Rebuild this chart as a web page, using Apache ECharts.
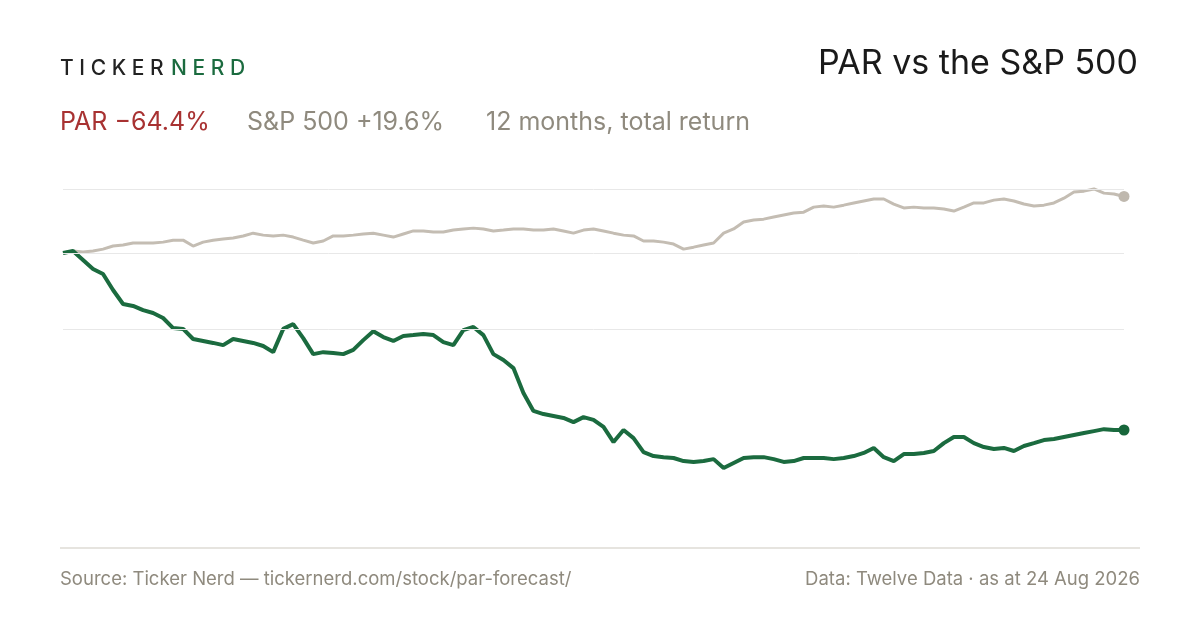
<!DOCTYPE html>
<html>
<head>
<meta charset="utf-8">
<script src="https://cdn.jsdelivr.net/npm/echarts@6/dist/echarts.min.js"></script>
<style>
  html, body { margin: 0; padding: 0; background: #fff; }
  #chart { width: 1200px; height: 630px; }
</style>
</head>
<body>
<div id="chart"></div>
<script>
// 12 months total return, %
const spx = [0,0.7,0.4,0.7,1.4,2.5,2.9,3.6,3.6,3.6,3.9,4.6,4.6,2.5,3.9,4.6,5.0,5.4,6.1,7.1,
  6.4,6.1,6.4,5.7,4.6,3.6,4.3,6.1,6.1,6.4,6.8,7.1,6.4,5.7,6.8,7.9,7.9,7.5,7.5,8.2,
  8.6,8.9,8.6,7.9,8.2,8.6,8.6,8.2,8.2,8.6,7.9,7.1,8.2,8.6,7.9,7.1,6.4,6.1,4.3,4.3,
  3.9,3.2,1.4,2.1,2.9,3.6,7.1,8.6,11.1,11.8,12.1,12.9,13.6,14.3,14.6,16.4,16.8,16.4,17.1,17.9,
  18.6,19.3,19.3,17.5,16.1,16.4,16.1,16.1,15.7,15.0,16.4,17.9,17.9,18.9,19.3,18.6,17.5,16.8,17.1,17.9,
  19.6,21.8,22.1,22.9,21.4,21.1,20.2];
const par = [0,0.7,-2.5,-5.7,-7.5,-13.2,-18.2,-18.9,-20.4,-21.4,-23.2,-26.8,-27.1,-30.7,-31.4,-32.1,-32.9,-30.7,-31.4,-32.1,
  -33.2,-35.4,-27.1,-25.4,-30.4,-36.1,-35.4,-35.7,-36.1,-34.6,-31.1,-27.9,-30.0,-31.4,-29.6,-29.3,-28.9,-29.3,-31.8,-32.9,
  -27.5,-26.4,-29.3,-36.1,-38.2,-41.1,-50.0,-56.4,-57.5,-58.2,-58.9,-60.4,-58.6,-59.6,-62.1,-67.5,-63.2,-66.1,-71.1,-72.5,
  -72.9,-73.2,-74.3,-74.6,-74.3,-73.6,-76.8,-75.0,-73.2,-72.9,-72.9,-73.6,-74.6,-74.3,-73.2,-73.2,-73.2,-73.6,-73.2,-72.5,
  -71.4,-69.6,-72.9,-74.3,-71.8,-71.8,-71.4,-70.7,-67.9,-65.7,-65.7,-67.9,-69.3,-70.0,-69.6,-70.7,-68.9,-67.9,-66.8,-66.4,
  -65.7,-65.0,-64.3,-63.6,-62.9,-63.2,-63.2];
const days = spx.map((_, i) => i);

function withEndDot(arr, color) {
  return arr.map((v, i) => i === arr.length - 1
    ? { value: v, symbol: 'circle', symbolSize: 11, itemStyle: { color: color } }
    : v);
}

const font = 'Inter, "Noto Sans", sans-serif';
const chart = echarts.init(document.getElementById('chart'));
chart.setOption({
  animation: false,
  grid: { left: 63, right: 76, top: 150, height: 350 },
  xAxis: { type: 'category', data: days, boundaryGap: false, show: false },
  yAxis: { type: 'value', min: -88.2, max: 36.8, show: false, splitLine: { show: false } },
  series: [
    {
      type: 'line', data: withEndDot(spx, '#bfb8ae'), symbol: 'none', z: 2,
      lineStyle: { color: '#c4bdb3', width: 3 },
      markLine: {
        silent: true, symbol: 'none', label: { show: false },
        lineStyle: { color: '#e8e8e8', width: 1, type: 'solid' },
        data: [{ yAxis: 22.9 }, { yAxis: 0 }, { yAxis: -27.1 }]
      }
    },
    {
      type: 'line', data: withEndDot(par, '#17663b'), symbol: 'none', z: 3,
      lineStyle: { color: '#1b6b3f', width: 4 }
    }
  ],
  graphic: [
    { type: 'text', left: 60, top: 58, style: { text: 'T I C K E R', font: '500 21px ' + font, fill: '#222' } },
    { type: 'text', left: 171, top: 58, style: { text: 'N E R D', font: '500 21px ' + font, fill: '#1b6b3f' } },
    { type: 'text', right: 62, top: 47, style: { text: 'PAR vs the S&P 500', font: '34px ' + font, fill: '#1a1a1a' } },
    { type: 'text', left: 60, top: 110, style: { text: 'PAR −64.4%', font: '25px ' + font, fill: '#a83232' } },
    { type: 'text', left: 247, top: 110, style: { text: 'S&P 500 +19.6%', font: '25px ' + font, fill: '#8f8a7e' } },
    { type: 'text', left: 486, top: 110, style: { text: '12 months, total return', font: '25px ' + font, fill: '#8f8a7e' } },
    { type: 'line', shape: { x1: 60, y1: 548, x2: 1140, y2: 548 }, style: { stroke: '#dedbd4', lineWidth: 1.5 } },
    { type: 'text', left: 60, top: 570, style: { text: 'Source: Ticker Nerd — tickernerd.com/stock/par-forecast/', font: '18.5px ' + font, fill: '#8f8a7e' } },
    { type: 'text', right: 60, top: 570, style: { text: 'Data: Twelve Data · as at 24 Aug 2026', font: '18.5px ' + font, fill: '#8f8a7e' } }
  ]
});
</script>
</body>
</html>
